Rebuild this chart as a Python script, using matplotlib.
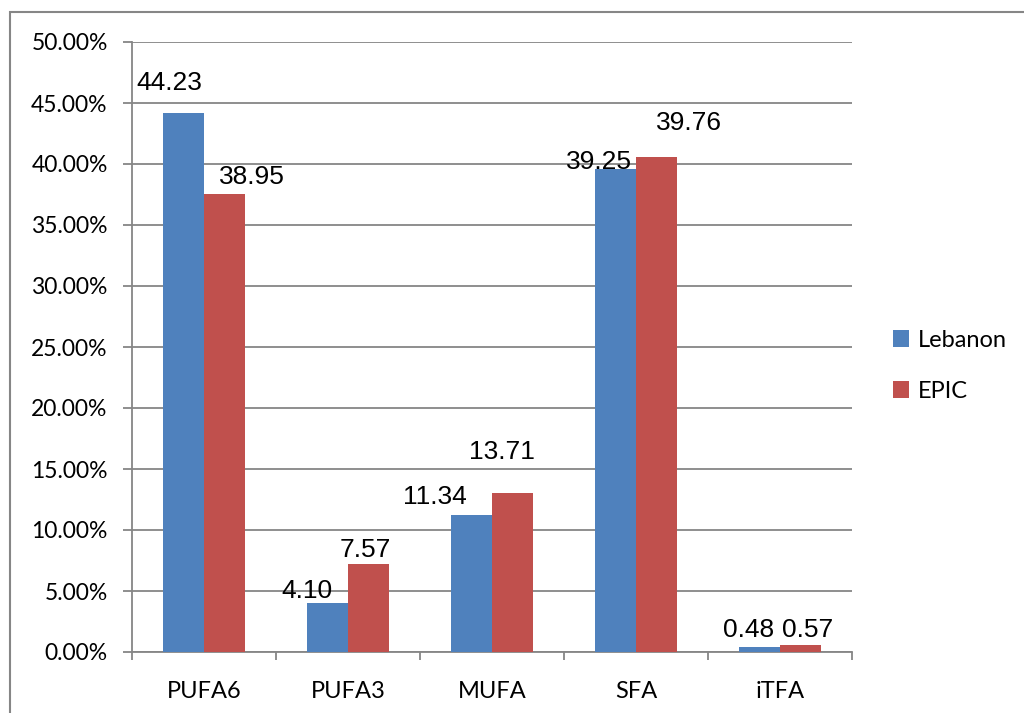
"""Fatty acid composition: Lebanon vs EPIC."""

import matplotlib.pyplot as plt
import numpy as np
from matplotlib.patches import Rectangle
from matplotlib.ticker import FuncFormatter, FixedLocator

categories = ['PUFA6', 'PUFA3', 'MUFA', 'SFA', 'iTFA']
lebanon = [44.2, 4.05, 11.25, 39.55, 0.45]
epic = [37.5, 7.2, 13.0, 40.55, 0.57]
lebanon_labels = ['44.23', '4.10', '11.34', '39.25', '0.48']
epic_labels = ['38.95', '7.57', '13.71', '39.76', '0.57']

# label offsets (pixels) from the top centre of each bar, Excel-style placement
leb_offsets = [(-14, 30), (-21, 12), (-37, 18), (-16, 7), (-11, 17)]
epic_offsets = [(27, 17), (-3, 14), (-11, 41), (32, 34), (7, 15)]

BLUE = '#4F81BD'
RED = '#C0504D'
GRID = '#868686'

fig = plt.figure(figsize=(10.24, 7.13), dpi=100)
ax = fig.add_axes([132 / 1024, 61 / 713, 720 / 1024, 610 / 713])

# outer chart border (cropped on the right and bottom)
fig.patches.append(Rectangle((9.5 / 1024, -0.05), 1.2, 1 - 12 / 713 + 0.05,
                             transform=fig.transFigure, fill=False,
                             edgecolor=GRID, linewidth=1.5))

x = np.arange(len(categories))
w = 0.285
b1 = ax.bar(x - w / 2, lebanon, w, color=BLUE, label='Lebanon', zorder=3)
b2 = ax.bar(x + w / 2, epic, w, color=RED, label='EPIC', zorder=3)

for rect, txt, off in zip(b1, lebanon_labels, leb_offsets):
    ax.annotate(txt, (rect.get_x() + rect.get_width() / 2, rect.get_height()),
                xytext=off, textcoords='offset pixels', ha='center', va='center',
                fontsize=19, family='Liberation Sans', zorder=4)
for rect, txt, off in zip(b2, epic_labels, epic_offsets):
    ax.annotate(txt, (rect.get_x() + rect.get_width() / 2, rect.get_height()),
                xytext=off, textcoords='offset pixels', ha='center', va='center',
                fontsize=19, family='Liberation Sans', zorder=4)

ax.set_xlim(-0.5, 4.5)
ax.set_ylim(0, 50)
ax.set_yticks(np.arange(0, 51, 5))
ax.yaxis.set_major_formatter(FuncFormatter(lambda v, p: f'{v:.2f}%'))
ax.grid(axis='y', color=GRID, linewidth=1.3, zorder=0)
ax.set_axisbelow(True)

ax.set_xticks(x)
ax.set_xticklabels(categories, family='Lato', fontsize=17)
ax.xaxis.set_minor_locator(FixedLocator(np.arange(-0.5, 5, 1)))
ax.tick_params(axis='x', which='major', length=0, pad=21)
ax.tick_params(axis='x', which='minor', length=6, width=1.3, color=GRID)
ax.tick_params(axis='y', length=6.5, width=1.3, color=GRID, pad=11)
for lbl in ax.get_yticklabels():
    lbl.set_family('Lato')
    lbl.set_fontsize(16.5)

for s in ['top', 'right']:
    ax.spines[s].set_visible(False)
for s in ['left', 'bottom']:
    ax.spines[s].set_color(GRID)
    ax.spines[s].set_linewidth(1.3)

fig.legend(handles=[b1, b2], loc='center left', bbox_to_anchor=(0.851, 0.487),
           frameon=False, prop={'family': 'Lato', 'size': 17},
           handlelength=0.7, handleheight=0.7, labelspacing=1.25, handletextpad=0.35)

fig.savefig('out.png', dpi=100)
